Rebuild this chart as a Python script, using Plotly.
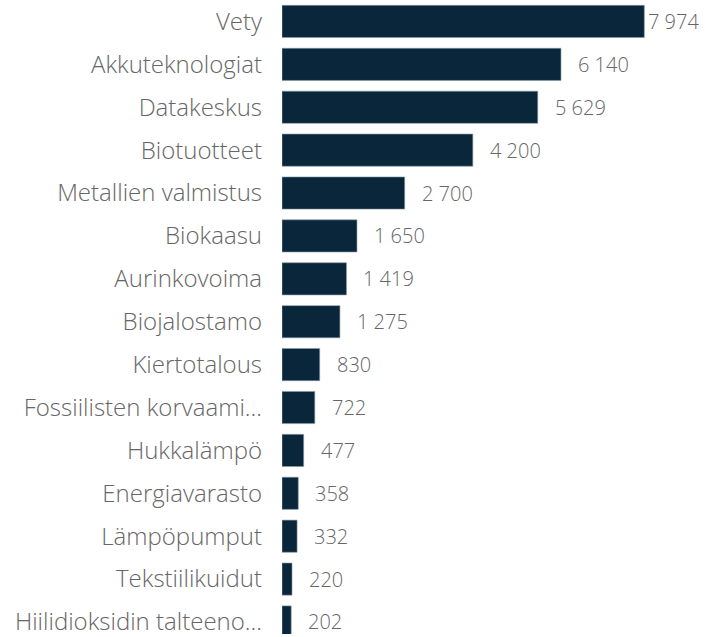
import plotly.graph_objects as go

categories = ["Vety", "Akkuteknologiat", "Datakeskus", "Biotuotteet", "Metallien valmistus",
              "Biokaasu", "Aurinkovoima", "Biojalostamo", "Kiertotalous",
              "Fossiilisten korvaami…", "Hukkalämpö", "Energiavarasto", "Lämpöpumput",
              "Tekstiilikuidut", "Hiilidioksidin talteeno…"]
values = [7974, 6140, 5629, 4200, 2700, 1650, 1419, 1275, 830, 722, 477, 358, 332, 220, 202]
value_labels = ["7 974", "6 140", "5 629", "4 200", "2 700", "1 650", "1 419", "1 275",
                "830", "722", "477", "358", "332", "220", "202"]

BAR = "#0a263b"
TXT = "#666666"
FONT = "Open Sans"

fig = go.Figure(go.Bar(
    x=values, y=categories, orientation="h",
    marker=dict(color=BAR, line=dict(color="#8a9aa8", width=0.6)),
    hoverinfo="skip",
))

vmax = max(values)
for c, v, t in zip(categories, values, value_labels):
    fig.add_annotation(x=v, y=c, text=t, showarrow=False, xanchor="left",
                       xshift=2 if v == vmax else 15,
                       font=dict(family=FONT, size=20, color=TXT, weight=300))

fig.update_layout(
    width=710, height=637,
    margin=dict(l=282, r=0, t=0, b=0),
    paper_bgcolor="white", plot_bgcolor="white",
    bargap=0.25, showlegend=False,
    xaxis=dict(range=[0, 9420], visible=False),
    yaxis=dict(type="category", categoryorder="array", categoryarray=categories,
               range=[14.28, -0.5], showgrid=False, zeroline=False, showline=False,
               ticks="", ticklabelstandoff=19,
               tickfont=dict(family=FONT, size=24, color=TXT, weight=300)),
    font=dict(family=FONT),
)

fig.write_html("out.html", config={"displayModeBar": False},
               post_script="document.body.style.margin='0';")
